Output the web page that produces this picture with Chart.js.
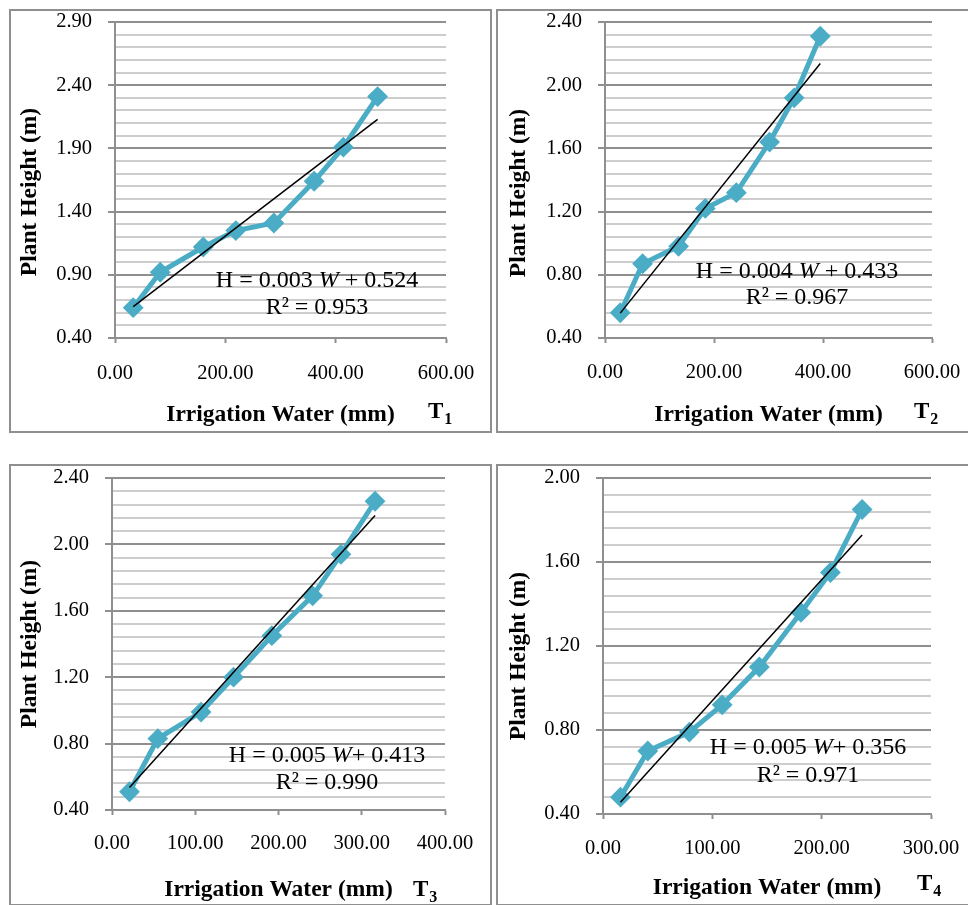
<!DOCTYPE html>
<html>
<head>
<meta charset="utf-8">
<script src="https://cdn.jsdelivr.net/npm/chart.js@4.4.0/dist/chart.umd.min.js"></script>
<style>
  body { margin: 0; background: #fff; width: 968px; height: 905px; overflow: hidden; position: relative; }
  .panel { position: absolute; border: 2px solid #8f8f8f; box-sizing: border-box; overflow: hidden; }
  .panel canvas { position: absolute; left: 0; top: 0; }
</style>
</head>
<body>
<div class="panel" style="left:9px;top:9px;width:483px;height:424px"><canvas id="c1" width="479" height="420"></canvas></div>
<div class="panel" style="left:496px;top:9px;width:480px;height:424px"><canvas id="c2" width="476" height="420"></canvas></div>
<div class="panel" style="left:9px;top:464px;width:483px;height:442px"><canvas id="c3" width="479" height="438"></canvas></div>
<div class="panel" style="left:496px;top:464px;width:480px;height:442px"><canvas id="c4" width="476" height="438"></canvas></div>
<script>
// T1
const water1 = [33, 82, 160, 219, 288, 361, 414, 476];
const height1 = [0.64, 0.92, 1.12, 1.25, 1.31, 1.64, 1.91, 2.31];
const xTicks1 = [0, 200, 400, 600];
const yTicks1 = [0.40, 0.90, 1.40, 1.90, 2.40, 2.90];
const eq1 = ['H = 0.003 ', 'W', ' + 0.524'];
const r2_1 = 'R² = 0.953';

// T2
const water2 = [28, 69, 135, 184, 241, 302, 347, 395];
const height2 = [0.56, 0.87, 0.98, 1.22, 1.32, 1.64, 1.92, 2.31];
const xTicks2 = [0, 200, 400, 600];
const yTicks2 = [0.40, 0.80, 1.20, 1.60, 2.00, 2.40];
const eq2 = ['H = 0.004 ', 'W', ' + 0.433'];
const r2_2 = 'R² = 0.967';

// T3
const water3 = [21, 55, 107, 146, 192, 241, 275, 316];
const height3 = [0.51, 0.83, 0.99, 1.20, 1.45, 1.69, 1.94, 2.26];
const xTicks3 = [0, 100, 200, 300, 400];
const yTicks3 = [0.40, 0.80, 1.20, 1.60, 2.00, 2.40];
const eq3 = ['H = 0.005 ', 'W', '+ 0.413'];
const r2_3 = 'R² = 0.990';

// T4
const water4 = [16, 41, 79, 109, 143, 181, 208, 237];
const height4 = [0.48, 0.70, 0.79, 0.92, 1.10, 1.36, 1.55, 1.85];
const xTicks4 = [0, 100, 200, 300];
const yTicks4 = [0.40, 0.80, 1.20, 1.60, 2.00];
const eq4 = ['H = 0.005 ', 'W', '+ 0.356'];
const r2_4 = 'R² = 0.971';

const xTitle = 'Irrigation Water (mm)';
const yTitle = 'Plant Height (m)';

const FONT = "'Liberation Serif', 'Times New Roman', serif";
const TEAL = '#4bacc6';

// least squares line for the trendline
function fit(xs, ys) {
  const n = xs.length;
  const mx = xs.reduce((a, b) => a + b, 0) / n;
  const my = ys.reduce((a, b) => a + b, 0) / n;
  let sxy = 0, sxx = 0;
  xs.forEach((x, i) => { sxy += (x - mx) * (ys[i] - my); sxx += (x - mx) * (x - mx); });
  const b = sxy / sxx;
  return { a: my - b * mx, b: b };
}

const panelText = {
  id: 'panelText',
  afterDraw(chart, args, o) {
    const ctx = chart.ctx;
    ctx.save();
    ctx.fillStyle = '#000';
    ctx.textBaseline = 'alphabetic';
    // equation, W in italics
    const fonts = ['24px ' + FONT, 'italic 24px ' + FONT, '24px ' + FONT];
    let w = 0;
    o.eq.forEach((s, i) => { ctx.font = fonts[i]; w += ctx.measureText(s).width; });
    let x = o.eqX - w / 2;
    o.eq.forEach((s, i) => {
      ctx.font = fonts[i];
      ctx.textAlign = 'left';
      ctx.fillText(s, x, o.eqY);
      x += ctx.measureText(s).width;
    });
    ctx.font = '24px ' + FONT;
    ctx.textAlign = 'center';
    ctx.fillText(o.r2, o.eqX, o.r2Y);
    // T label with subscript
    ctx.textAlign = 'left';
    ctx.font = 'bold 23px ' + FONT;
    ctx.fillText('T', o.tX, o.tY);
    const tw = ctx.measureText('T').width;
    ctx.font = 'bold 16px ' + FONT;
    ctx.fillText(o.sub, o.tX + tw + 1, o.tY + 6);
    // y axis title (Excel places it a bit below the plot centre)
    ctx.translate(o.yTX, o.yTY);
    ctx.rotate(-Math.PI / 2);
    ctx.font = 'bold 23.5px ' + FONT;
    ctx.textAlign = 'center';
    ctx.textBaseline = 'middle';
    ctx.fillText(yTitle, 0, 0);
    ctx.restore();
  }
};

function makeChart(id, p) {
  const box = p.box, plot = p.plot;
  const yMin = p.yTicks[0], yMax = p.yTicks[p.yTicks.length - 1];
  const minorStep = (p.yTicks[1] - p.yTicks[0]) / 5;
  const yAll = [];
  for (let k = 0; yMin + k * minorStep <= yMax + 1e-9; k++) yAll.push(yMin + k * minorStep);
  const isMajor = v => p.yTicks.some(t => Math.abs(t - v) < 1e-6);

  const f = fit(p.xs, p.ys);
  const x0 = p.xs[0], x1 = p.xs[p.xs.length - 1];
  const tick = 20.5;
  const titleSize = 23.5;

  new Chart(document.getElementById(id), {
    type: 'scatter',
    data: {
      datasets: [
        {
          data: [{ x: x0, y: f.a + f.b * x0 }, { x: x1, y: f.a + f.b * x1 }],
          showLine: true,
          borderColor: '#000',
          borderWidth: 1.5,
          pointRadius: 0,
          order: 0
        },
        {
          data: p.xs.map((x, i) => ({ x: x, y: p.ys[i] })),
          showLine: true,
          borderColor: TEAL,
          borderWidth: 5,
          backgroundColor: TEAL,
          pointStyle: 'rectRot',
          pointRadius: 9,
          pointBorderWidth: 2,
          pointBorderColor: TEAL,
          order: 1
        }
      ]
    },
    options: {
      responsive: false,
      animation: false,
      layout: {
        padding: { left: 0, bottom: 0, top: plot.t - box.y, right: box.x + box.w - plot.r }
      },
      plugins: {
        legend: { display: false },
        tooltip: { enabled: false },
        panelText: {
          eq: p.eq, r2: p.r2, sub: p.sub,
          eqX: p.eqX - box.x, eqY: p.eqY - box.y, r2Y: p.r2Y - box.y,
          tX: p.tX - box.x, tY: p.tY - box.y,
          yTX: p.yTitleX - box.x, yTY: p.yTitleY - box.y
        }
      },
      scales: {
        x: {
          type: 'linear',
          min: p.xTicks[0],
          max: p.xTicks[p.xTicks.length - 1],
          afterBuildTicks: s => { s.ticks = p.xTicks.map(v => ({ value: v })); },
          afterFit: s => {
            s.height = box.y + box.h - plot.b;
            s.paddingLeft = 0;
            s.paddingRight = 0;
          },
          ticks: {
            autoSkip: false,
            maxRotation: 0,
            color: '#000',
            padding: p.xPad,
            font: { family: FONT, size: tick, lineHeight: 1 },
            callback: v => Number(v).toFixed(2)
          },
          grid: { drawOnChartArea: false, tickLength: 5, tickColor: '#8f8f8f', tickWidth: 2 },
          border: { color: '#8f8f8f', width: 2 },
          title: {
            display: true,
            text: xTitle,
            color: '#000',
            font: { family: FONT, size: titleSize, weight: 'bold' },
            padding: { top: 0, bottom: (box.y + box.h - p.xTitleY) - titleSize * 0.6 }
          }
        },
        y: {
          type: 'linear',
          min: yMin,
          max: yMax,
          afterBuildTicks: s => { s.ticks = yAll.map(v => ({ value: v })); },
          afterFit: s => {
            s.width = plot.l - box.x;
            s.paddingTop = 0;
            s.paddingBottom = 0;
          },
          ticks: {
            autoSkip: false,
            color: '#000',
            padding: 16,
            font: { family: FONT, size: tick, lineHeight: 1 },
            callback: v => isMajor(v) ? Number(v).toFixed(2) : ''
          },
          grid: {
            lineWidth: 2,
            color: c => isMajor(c.tick.value) ? '#8f8f8f' : '#cdcdcd',
            tickColor: c => isMajor(c.tick.value) ? '#8f8f8f' : 'rgba(0,0,0,0)',
            tickLength: 7,
            tickWidth: 2
          },
          border: { color: '#8f8f8f', width: 2 }
        }
      }
    },
    plugins: [panelText]
  });
}

makeChart('c1', {
  xs: water1, ys: height1, xTicks: xTicks1, yTicks: yTicks1, eq: eq1, r2: r2_1, sub: '1',
  box: { x: 11, y: 11, w: 479, h: 420 }, plot: { l: 115, r: 446, t: 22, b: 338 },
  xPad: 20, xTitleY: 415, yTitleX: 30, yTitleY: 192,
  eqX: 317, eqY: 287, r2Y: 314, tX: 428, tY: 418
});
makeChart('c2', {
  xs: water2, ys: height2, xTicks: xTicks2, yTicks: yTicks2, eq: eq2, r2: r2_2, sub: '2',
  box: { x: 498, y: 11, w: 476, h: 420 }, plot: { l: 605, r: 932, t: 22, b: 338 },
  xPad: 19, xTitleY: 415, yTitleX: 519, yTitleY: 193,
  eqX: 797, eqY: 278, r2Y: 304, tX: 914, tY: 418
});
makeChart('c3', {
  xs: water3, ys: height3, xTicks: xTicks3, yTicks: yTicks3, eq: eq3, r2: r2_3, sub: '3',
  box: { x: 11, y: 466, w: 479, h: 438 }, plot: { l: 112, r: 445, t: 478, b: 810 },
  xPad: 18, xTitleY: 890, yTitleX: 30, yTitleY: 644,
  eqX: 327, eqY: 762, r2Y: 789, tX: 413, tY: 896
});
makeChart('c4', {
  xs: water4, ys: height4, xTicks: xTicks4, yTicks: yTicks4, eq: eq4, r2: r2_4, sub: '4',
  box: { x: 498, y: 466, w: 476, h: 438 }, plot: { l: 603, r: 931, t: 478, b: 814 },
  xPad: 19, xTitleY: 888, yTitleX: 519, yTitleY: 656,
  eqX: 808, eqY: 754, r2Y: 782, tX: 917, tY: 890
});
</script>
</body>
</html>
